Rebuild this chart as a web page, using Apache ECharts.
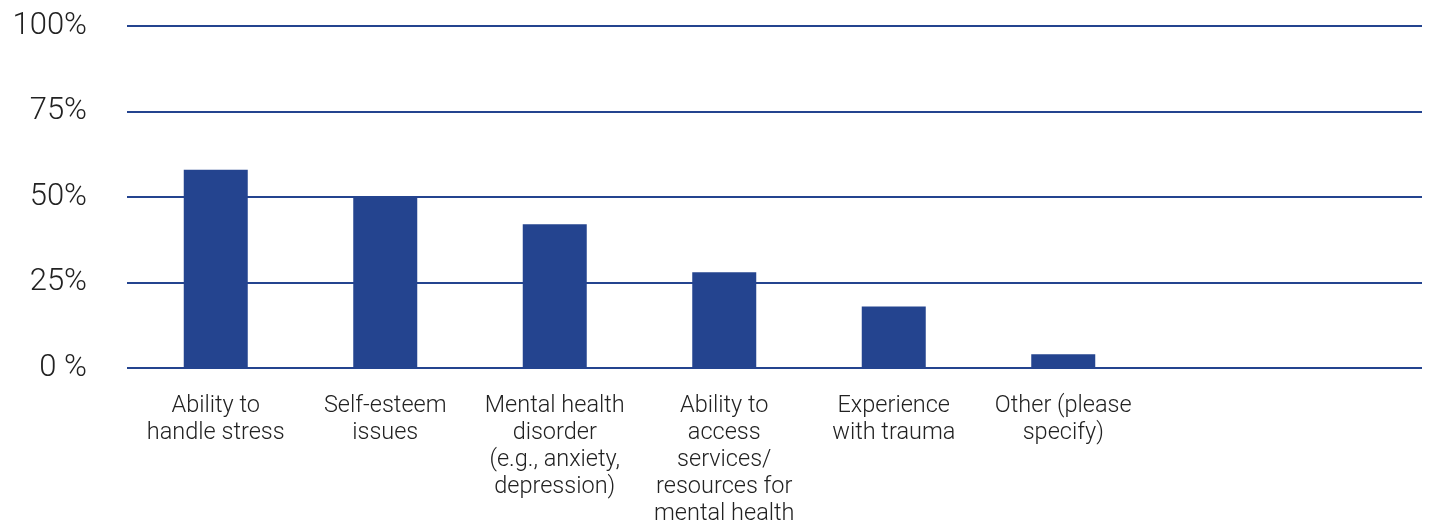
<!DOCTYPE html>
<html>
<head>
<meta charset="utf-8">
<script src="https://cdn.jsdelivr.net/npm/echarts@6/dist/echarts.min.js"></script>
<style>
  html, body { margin: 0; padding: 0; background: #fff; }
  #chart { width: 1432px; height: 525px; }
</style>
</head>
<body>
<div id="chart"></div>
<script>
  // categories along the bottom
  const categories = [
    'Ability to\nhandle stress',
    'Self-esteem\nissues',
    'Mental health\ndisorder\n(e.g., anxiety,\ndepression)',
    'Ability to\naccess\nservices/\nresources for\nmental health',
    'Experience\nwith trauma',
    'Other (please\nspecify)'
  ];
  // percent of respondents
  const values = [58, 50, 42, 28, 18, 4];
  // y tick labels, bottom to top
  const tickValues = [0, 25, 50, 75, 100];
  const tickLabels = ['0 %', '25%', '50%', '75%', '100%'];

  const blue = '#24448f';
  const font = '"Helvetica Neue", Roboto, "Liberation Sans", sans-serif';

  const chart = echarts.init(document.getElementById('chart'));
  chart.setOption({
    animation: false,
    grid: [
      // bars
      { left: 131, top: 26, width: 1017, height: 342, outerBoundsMode: 'none' },
      // gridlines + y labels (full width)
      { left: 127, right: 10, top: 26, height: 342, outerBoundsMode: 'none' }
    ],
    xAxis: [
      {
        type: 'category',
        gridIndex: 0,
        data: categories,
        axisLine: { show: false },
        axisTick: { show: false },
        axisLabel: {
          interval: 0,
          margin: 25,
          color: '#222',
          fontFamily: font,
          fontWeight: 300,
          fontSize: 23.5,
          lineHeight: 27,
          align: 'center'
        }
      },
      { type: 'value', gridIndex: 1, min: 0, max: 1, show: false }
    ],
    yAxis: [
      { type: 'value', gridIndex: 0, min: 0, max: 100, show: false },
      {
        type: 'value',
        gridIndex: 1,
        min: 0,
        max: 100,
        interval: 25,
        axisLine: { show: false },
        axisTick: { show: false },
        splitLine: { show: true, lineStyle: { color: blue, width: 2 } },
        axisLabel: {
          margin: 40,
          color: '#222',
          fontFamily: font,
          fontWeight: 300,
          fontSize: 31,
          formatter: function (v) {
            return tickLabels[tickValues.indexOf(v)];
          }
        }
      }
    ],
    series: [{
      type: 'bar',
      xAxisIndex: 0,
      yAxisIndex: 0,
      barWidth: 64,
      itemStyle: { color: blue },
      data: values
    }]
  });
</script>
</body>
</html>
